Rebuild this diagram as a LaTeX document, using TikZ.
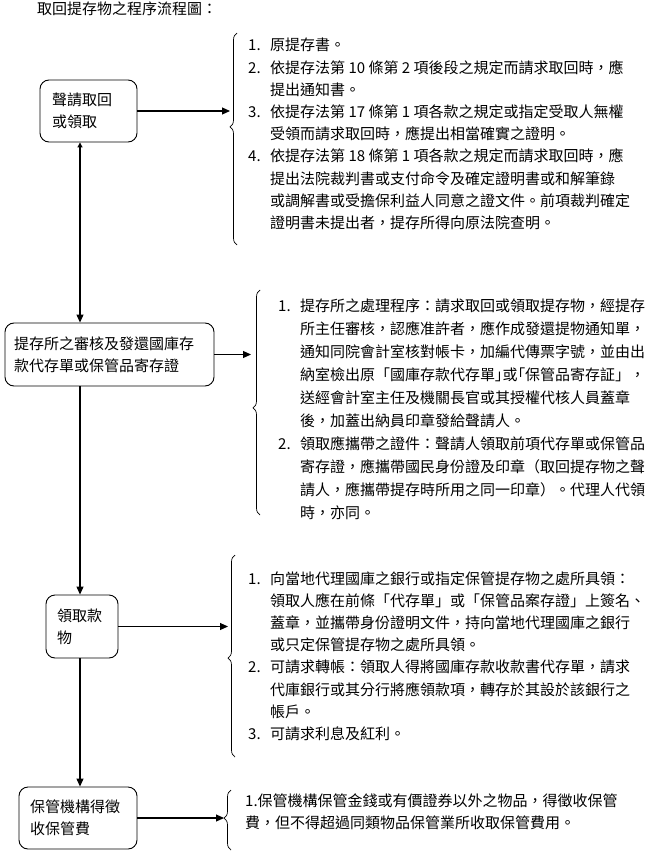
\documentclass[tikz,border=0pt]{standalone}
\usepackage{fontspec}
\setmainfont{Noto Sans CJK TC}
\newfontfamily\paltfont[RawFeature=+palt]{Noto Sans CJK TC}
\usetikzlibrary{arrows.meta,decorations.pathreplacing,calc}
\newcommand{\itemnum}[1]{\makebox[22pt][l]{#1}}
\newcommand{\contind}{\hspace*{22pt}}
\begin{document}
\begin{tikzpicture}[x=1pt,y=-1pt,
  txt/.style={font=\fontsize{15pt}{22.2pt}\selectfont, inner sep=0pt, align=left},
  flowbox/.style={draw, line width=0.9pt, rounded corners=9pt, font=\fontsize{15pt}{22pt}\selectfont, align=left, inner ysep=0pt},
  conn/.style={line width=1.1pt, -{Triangle[length=8pt,width=7pt]}},
  bracefig/.style={decorate, decoration={brace, amplitude=7pt, aspect=#1}, line width=0.7pt}
]
\useasboundingbox (0,0) rectangle (650,853);
\fill[white] (0,0) rectangle (650,853);

\node[txt, anchor=base west] (title) at (37,15) {取回提存物之程序流程圖：};

% boxes
\node[flowbox, text width=73pt, inner xsep=12pt, minimum height=62pt] (b1) at (88.5,111) {聲請取回\\或領取};
\node[flowbox, text width=191pt, inner xsep=9pt, minimum height=63pt] (b2) at (109.5,354.5) {提存所之審核及發還國庫存\\款代存單或保管品寄存證};
\node[flowbox, text width=50pt, inner xsep=11pt, minimum height=63pt] (b3) at (82,626.5) {領取款\\物};
\node[flowbox, text width=96pt, inner xsep=11pt, minimum height=62pt] (b4) at (78,818) {保管機構得徵\\收保管費};

% vertical connectors
\coordinate (vx) at (80,0);
\draw[line width=1.1pt, {Triangle[length=5pt,width=5pt]}-{Triangle[length=8pt,width=7pt]}] (b1.south -| vx) -- (b2.north -| vx);
\draw[conn] (b2.south -| vx) -- (b3.north -| vx);
\draw[conn] (b3.south -| vx) -- (b4.north -| vx);

% horizontal connectors
\coordinate (a1) at (230,0);
\coordinate (a2) at (251,0);
\coordinate (a3) at (228,0);
\coordinate (a4) at (224,0);
\draw[conn] (b1.east) -- (b1.east -| a1);
\draw[conn] (b2.east) -- (b2.east -| a2);
\draw[conn] (b3.east) -- (b3.east -| a3);
\draw[conn] (b4.east) -- (b4.east -| a4);

% braces
\coordinate (br1t) at (237,33);  \coordinate (br1b) at (237,245);
\coordinate (br2t) at (260,290); \coordinate (br2b) at (260,515);
\coordinate (br3t) at (235,555); \coordinate (br3b) at (235,757);
\coordinate (br4t) at (231,790); \coordinate (br4b) at (231,850);
\draw[bracefig=0.557] (br1b) -- (br1t);
\draw[bracefig=0.476] (br2b) -- (br2t);
\draw[bracefig=0.49] (br3b) -- (br3t);
\draw[bracefig=0.53] (br4b) -- (br4t);

% lists
\node[txt, anchor=base west] (l1) at (248,51) {\begin{tabular}[t]{@{}l@{}}
\itemnum{1.}原提存書。\\
\itemnum{2.}依提存法第 10 條第 2 項後段之規定而請求取回時，應\\
\contind 提出通知書。\\
\itemnum{3.}依提存法第 17 條第 1 項各款之規定或指定受取人無權\\
\contind 受領而請求取回時，應提出相當確實之證明。\\
\itemnum{4.}依提存法第 18 條第 1 項各款之規定而請求取回時，應\\
\contind 提出法院裁判書或支付命令及確定證明書或和解筆錄\\
\contind 或調解書或受擔保利益人同意之證文件。前項裁判確定\\
\contind 證明書未提出者，提存所得向原法院查明。
\end{tabular}};

\node[txt, font=\fontsize{15pt}{23pt}\selectfont, anchor=base west] (l2) at (278,311) {\begin{tabular}[t]{@{}l@{}}
\itemnum{1.}提存所之處理程序：請求取回或領取提存物，經提存\\
\contind 所主任審核，認應准許者，應作成發還提物通知單，\\
\contind 通知同院會計室核對帳卡，加編代傳票字號，並由出\\
\contind 納室檢出原「國庫存款代存單{\paltfont 」}或{\paltfont 「}保管品寄存証」，\\
\contind 送經會計室主任及機關長官或其授權代核人員蓋章\\
\contind 後，加蓋出納員印章發給聲請人。\\
\itemnum{2.}領取應攜帶之證件：聲請人領取前項代存單或保管品\\
\contind 寄存證，應攜帶國民身份證及印章（取回提存物之聲\\
\contind 請人，應攜帶提存時所用之同一印章）。代理人代領\\
\contind 時，亦同。
\end{tabular}};

\node[txt, anchor=base west] (l3) at (248,584) {\begin{tabular}[t]{@{}l@{}}
\itemnum{1.}向當地代理國庫之銀行或指定保管提存物之處所具領：\\
\contind 領取人應在前條「代存單」或「保管品案存證」上簽名、\\
\contind 蓋章，並攜帶身份證明文件，持向當地代理國庫之銀行\\
\contind 或只定保管提存物之處所具領。\\
\itemnum{2.}可請求轉帳：領取人得將國庫存款收款書代存單，請求\\
\contind 代庫銀行或其分行將應領款項，轉存於其設於該銀行之\\
\contind 帳戶。\\
\itemnum{3.}可請求利息及紅利。
\end{tabular}};

\node[txt, anchor=base west] (l4) at (245,806) {\begin{tabular}[t]{@{}l@{}}
1.保管機構保管金錢或有價證券以外之物品，得徵收保管\\
費，但不得超過同類物品保管業所收取保管費用。
\end{tabular}};
\end{tikzpicture}
\end{document}
